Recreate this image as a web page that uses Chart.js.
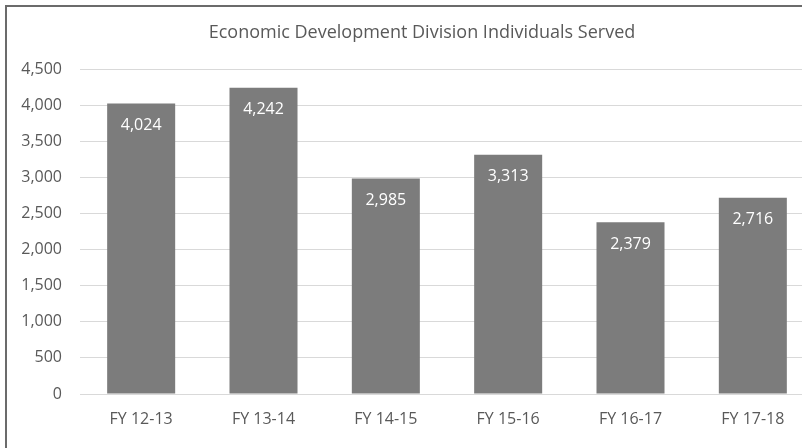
<!DOCTYPE html>
<html>
<head>
<meta charset="utf-8">
<script src="https://cdn.jsdelivr.net/npm/chart.js@4"></script>
<style>
  html, body { margin: 0; padding: 0; background: #fff; overflow: hidden; }
  #frame {
    position: absolute; left: 5px; top: 5px;
    width: 830px; height: 441px;
    border-left: 2px solid #6b6b6b; border-top: 2px solid #6b6b6b;
  }
  #frame canvas { display: block; }
</style>
</head>
<body>
<div id="frame"><canvas id="chart"></canvas></div>
<script>
  const titulo = 'Economic Development Division Individuals Served';
  const categorias = ['FY 12-13', 'FY 13-14', 'FY 14-15', 'FY 15-16', 'FY 16-17', 'FY 17-18'];
  const atendidos = [4024, 4242, 2985, 3313, 2379, 2716];
  const yMax = 4500;
  const yPaso = 500;

  const TXT = '#595959';
  const FONT = "'Open Sans', sans-serif";
  const fmt = v => v.toLocaleString('en-US');

  // título centrado en todo el lienzo, no sólo en el área del gráfico
  const tituloLienzo = {
    id: 'tituloLienzo',
    afterDraw(chart) {
      const { ctx } = chart;
      ctx.save();
      ctx.fillStyle = TXT;
      ctx.font = `18px ${FONT}`;
      ctx.textAlign = 'center';
      ctx.textBaseline = 'alphabetic';
      ctx.fillText(titulo, chart.width / 2, 31);
      ctx.restore();
    }
  };

  // etiquetas blancas dentro de cada barra, cerca del borde superior
  const etiquetasBarras = {
    id: 'etiquetasBarras',
    afterDatasetsDraw(chart) {
      const { ctx } = chart;
      const meta = chart.getDatasetMeta(0);
      ctx.save();
      ctx.fillStyle = '#ffffff';
      ctx.font = `16px ${FONT}`;
      ctx.textAlign = 'center';
      ctx.textBaseline = 'middle';
      meta.data.forEach((bar, i) => {
        ctx.fillText(fmt(atendidos[i]), bar.x, bar.y + 22);
      });
      ctx.restore();
    }
  };

  new Chart(document.getElementById('chart'), {
    type: 'bar',
    data: {
      labels: categorias,
      datasets: [{
        data: atendidos,
        backgroundColor: '#7c7c7c',
        borderWidth: 0,
        barPercentage: 0.556,
        categoryPercentage: 1
      }]
    },
    options: {
      responsive: true,
      maintainAspectRatio: false,
      animation: false,
      layout: { padding: { left: 0, right: 23, top: 62, bottom: 0 } },
      plugins: {
        legend: { display: false },
        tooltip: { enabled: false },
        title: { display: false }
      },
      scales: {
        x: {
          grid: { display: false, drawTicks: false },
          border: { display: false },
          ticks: { color: TXT, font: { family: FONT, size: 16 }, padding: 16 },
          afterFit: s => { s.height = 54; }
        },
        y: {
          min: 0,
          max: yMax,
          grid: { color: '#d9d9d9', lineWidth: 1, drawTicks: false, tickLength: 0 },
          border: { display: false },
          ticks: {
            stepSize: yPaso,
            color: TXT,
            font: { family: FONT, size: 16 },
            padding: 18,
            callback: v => fmt(v)
          },
          afterFit: s => { s.width = 73; }
        }
      }
    },
    plugins: [tituloLienzo, etiquetasBarras]
  });
</script>
</body>
</html>
